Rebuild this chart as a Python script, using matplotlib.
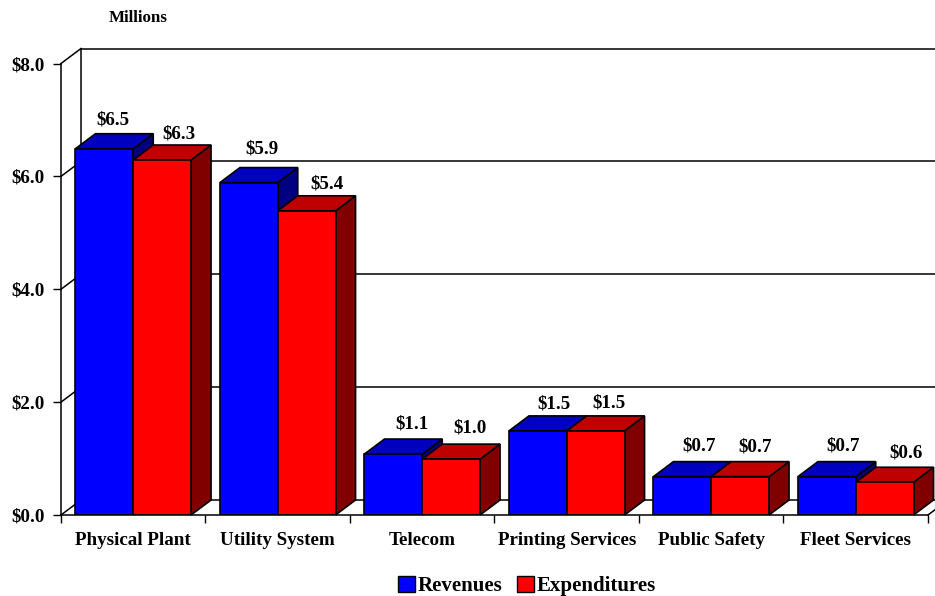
import matplotlib
matplotlib.use('Agg')
import numpy as np
import matplotlib.pyplot as plt
from matplotlib.patches import Patch, Polygon

plt.rcParams['font.family'] = ['Liberation Serif', 'DejaVu Serif']
plt.rcParams['font.weight'] = 'bold'

categories = ['Physical Plant', 'Utility System', 'Telecom',
              'Printing Services', 'Public Safety', 'Fleet Services']
revenues = [6.49, 5.89, 1.08, 1.49, 0.68, 0.68]
expenditures = [6.29, 5.39, 0.99, 1.49, 0.68, 0.58]
revenue_labels = ['$6.5', '$5.9', '$1.1', '$1.5', '$0.7', '$0.7']
expenditure_labels = ['$6.3', '$5.4', '$1.0', '$1.5', '$0.7', '$0.6']
y_ticks = [0, 2, 4, 6, 8]
y_tick_labels = ['$0.0', '$2.0', '$4.0', '$6.0', '$8.0']

W, H = 935, 596
fig = plt.figure(figsize=(W / 100, H / 100), dpi=100)
# plot area in pixels: x 61..928, y 515..63.5
ax = fig.add_axes([61 / W, 1 - 515 / H, 867 / W, 451.5 / H])
ax.set_xlim(0, 6)
ax.set_ylim(0, 8)
for s in ['top', 'right']:
    ax.spines[s].set_visible(False)

# depth of the fake 3d in data units (20px across, 15px up)
dx = 20 / (867 / 6)
dy = 15 / (451.5 / 8)
bar_w = 0.4
edge = dict(edgecolor='black', linewidth=1.2, clip_on=False)


def bar3d(x, val, front, top, side, z):
    ax.add_patch(Polygon([(x + bar_w, 0), (x + bar_w + dx, dy), (x + bar_w + dx, val + dy), (x + bar_w, val)],
                         facecolor=side, zorder=z, **edge))
    ax.add_patch(Polygon([(x, val), (x + dx, val + dy), (x + bar_w + dx, val + dy), (x + bar_w, val)],
                         facecolor=top, zorder=z, **edge))
    ax.bar(x, val, bar_w, align='edge', color=front, edgecolor='black', linewidth=1.2, zorder=z)


# back wall and left wall lines
xmax = 6 + 7 / (867 / 6)
for t in y_ticks:
    ax.plot([0, dx], [t, t + dy], color='black', lw=1.1, clip_on=False, zorder=1)
    ax.plot([dx, xmax], [t + dy, t + dy], color='black', lw=1.1, clip_on=False, zorder=1)
ax.plot([dx, dx], [dy, 8 + dy], color='black', lw=1.1, clip_on=False, zorder=1)
ax.plot([6, xmax], [0, dy * 7 / 20], color='black', lw=1.1, clip_on=False, zorder=1)

for i in range(len(categories)):
    z = 3 + i * 2
    bar3d(i + 0.1, revenues[i], '#0000FF', '#0000BF', '#000080', z)
    bar3d(i + 0.5, expenditures[i], '#FF0000', '#BF0000', '#800000', z + 1)

# data labels sit at hand placed spots, like in the original
label_x = [113, 262, 412, 554, 699, 843, 179, 327, 470, 609, 755, 906]
label_y = [120, 149, 424, 404, 446, 446, 134, 184, 428, 403, 447, 453]
all_labels = revenue_labels + expenditure_labels
for txt, px, py in zip(all_labels, label_x, label_y):
    fig.text(px / W, 1 - py / H, txt, ha='center', va='center', fontsize=13.7, fontweight='bold')

ax.set_yticks(y_ticks)
ax.set_yticklabels(y_tick_labels, fontsize=13.7, fontweight='bold')
ax.set_xticks(range(7))
ax.set_xticklabels([])
ax.set_xticks(np.arange(6) + 0.5, labels=categories, minor=True)
ax.tick_params(axis='x', which='major', length=5.8, width=1, direction='out')
ax.tick_params(axis='x', which='minor', length=0, pad=12, labelsize=13.7)
ax.tick_params(axis='y', length=5.8, width=1, pad=6)
ax.spines['left'].set_linewidth(1.1)
ax.spines['bottom'].set_linewidth(1.1)
ax.spines['bottom'].set_zorder(20)

fig.text(138.5 / W, 1 - 18 / H, 'Millions', ha='center', va='center', fontsize=12.2, fontweight='bold')

handles = [Patch(facecolor='#0000FF', edgecolor='black', label='Revenues'),
           Patch(facecolor='#FF0000', edgecolor='black', label='Expenditures')]
fig.legend(handles=handles, loc='center', bbox_to_anchor=(527 / W, 1 - 586 / H), ncol=2, frameon=False,
           fontsize=15, handlelength=0.8, handleheight=0.8, handletextpad=0.15, columnspacing=0.7,
           borderpad=0, borderaxespad=0)

fig.savefig('out.png', dpi=100)
